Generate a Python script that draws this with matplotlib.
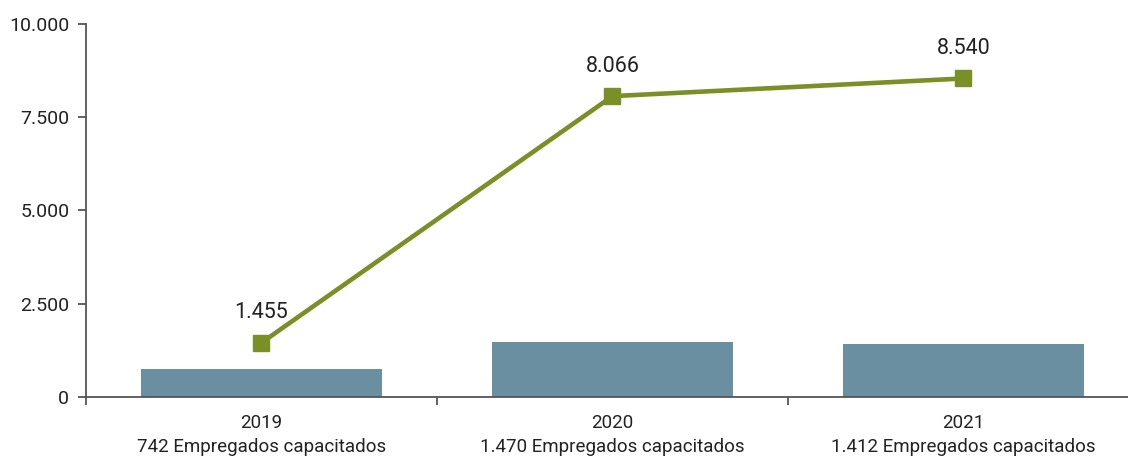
import matplotlib.pyplot as plt
import numpy as np
from matplotlib.ticker import FuncFormatter, FixedLocator

plt.rcParams['font.family'] = ['Roboto', 'DejaVu Sans']

anos = ["2019", "2020", "2021"]
empregados = [742, 1470, 1412]
horas = [1455, 8066, 8540]
y_ticks = [0, 2500, 5000, 7500, 10000]

cor_barra = "#6a8fa1"
cor_linha = "#7a8f26"
cor_eixo = "#555555"


def pt_br(v):
    # separador de milhar com ponto
    return f"{int(v):,}".replace(",", ".")


fig = plt.figure(figsize=(11.28, 4.59), dpi=100)
ax = fig.add_axes([86 / 1128, 62 / 459, 1053 / 1128, 373 / 459])

x = np.arange(len(anos))
ax.bar(x, empregados, width=0.684, color=cor_barra, zorder=2)
ax.plot(x, horas, color=cor_linha, lw=3.3, marker="s", markersize=11.5, zorder=3)

for xi, v in zip(x, horas):
    ax.annotate(pt_br(v), (xi, v), xytext=(0, 14), textcoords="offset points",
                ha="center", va="bottom", fontsize=15.5, color="#222222")

ax.set_xlim(-0.5, len(anos) - 0.5)
ax.set_ylim(0, 10000)
ax.set_yticks(y_ticks)
ax.yaxis.set_major_formatter(FuncFormatter(lambda v, p: pt_br(v)))

# marcas nos limites das categorias, rótulos no centro
ax.xaxis.set_major_locator(FixedLocator(np.arange(len(anos) + 1) - 0.5))
ax.xaxis.set_major_formatter(FuncFormatter(lambda v, p: ""))
ax.xaxis.set_minor_locator(FixedLocator(x))
ax.set_xticklabels([f"{a}\n{pt_br(e)} Empregados capacitados" for a, e in zip(anos, empregados)],
                   minor=True)
ax.tick_params(axis="x", which="minor", length=0, pad=12, labelsize=13.5, colors="#222222")
ax.tick_params(axis="x", which="major", length=6, width=1.3, color=cor_eixo, direction="out")
ax.tick_params(axis="y", length=6, width=1.3, color=cor_eixo, labelsize=14,
               labelcolor="#222222", pad=6)
for lbl in ax.get_xticklabels(minor=True):
    lbl.set_linespacing(1.45)

for s in ["top", "right"]:
    ax.spines[s].set_visible(False)
for s in ["left", "bottom"]:
    ax.spines[s].set_color(cor_eixo)
    ax.spines[s].set_linewidth(1.3)

fig.savefig("out.png", dpi=100)
